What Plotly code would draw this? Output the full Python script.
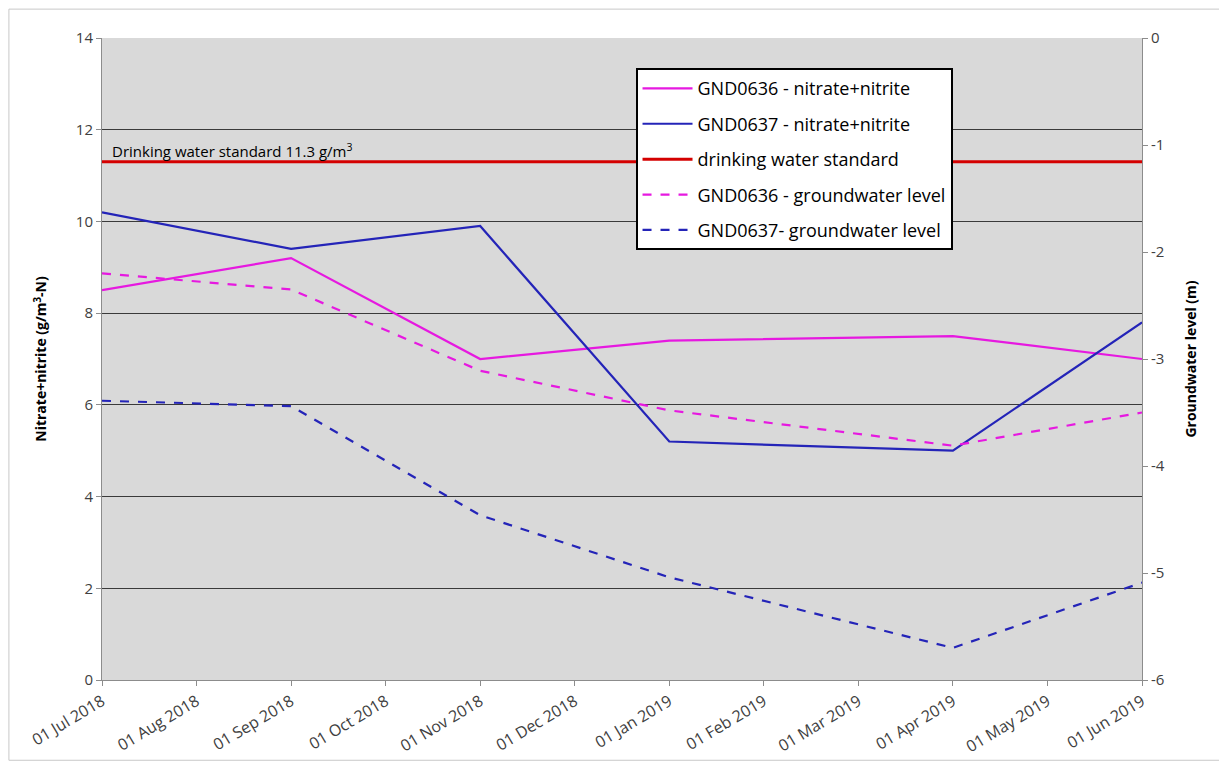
import plotly.graph_objects as go

# month axis (evenly spaced, like the spreadsheet date axis)
months = ["01 Jul 2018", "01 Aug 2018", "01 Sep 2018", "01 Oct 2018",
          "01 Nov 2018", "01 Dec 2018", "01 Jan 2019", "01 Feb 2019",
          "01 Mar 2019", "01 Apr 2019", "01 May 2019", "01 Jun 2019"]
sample_dates = ["01 Jul 2018", "01 Sep 2018", "01 Nov 2018",
                "01 Jan 2019", "01 Apr 2019", "01 Jun 2019"]

gnd0636_nitrate = [8.5, 9.2, 7.0, 7.4, 7.5, 7.0]
gnd0637_nitrate = [10.2, 9.4, 9.9, 5.2, 5.0, 7.8]
gnd0636_level = [-2.20, -2.35, -3.11, -3.48, -3.81, -3.50]
gnd0637_level = [-3.39, -3.44, -4.46, -5.04, -5.70, -5.09]
dws_value = 11.3

left_ticks = [0, 2, 4, 6, 8, 10, 12, 14]
right_ticks = [-6, -5, -4, -3, -2, -1, 0]
right_ticktext = ["-6", "-5", "-4", "-3", "-2", "-1", "0"]

MAGENTA = "#e619e0"
BLUE = "#2424b8"
RED = "#d40000"
FONT = "Open Sans"

fig = go.Figure()

fig.add_trace(go.Scatter(x=sample_dates, y=gnd0636_nitrate, mode="lines",
                         name="GND0636 - nitrate+nitrite", legendgroup="a",
                         line=dict(color=MAGENTA, width=2.2)))
fig.add_trace(go.Scatter(x=sample_dates, y=gnd0637_nitrate, mode="lines",
                         name="GND0637 - nitrate+nitrite", legendgroup="b",
                         line=dict(color=BLUE, width=2.2)))
fig.add_trace(go.Scatter(x=[months[0], months[-1]], y=[dws_value, dws_value],
                         mode="lines", name="drinking water standard",
                         legendgroup="c",
                         line=dict(color=RED, width=3)))
fig.add_trace(go.Scatter(x=sample_dates, y=gnd0636_level, mode="lines",
                         name="GND0636 - groundwater level", yaxis="y2",
                         legendgroup="d",
                         line=dict(color=MAGENTA, width=2.2, dash="dash")))
fig.add_trace(go.Scatter(x=sample_dates, y=gnd0637_level, mode="lines",
                         name="GND0637- groundwater level", yaxis="y2",
                         legendgroup="e",
                         line=dict(color=BLUE, width=2.2, dash="dash")))

axis_common = dict(showline=True, linecolor="#8c8c8c", ticks="outside",
                   ticklen=5, tickcolor="#8c8c8c", automargin=False,
                   tickfont=dict(size=15, color="#404040"))

# page body adds 8px offset, so margins are shifted to land the plot area
# on the same pixels as the reference
fig.update_layout(
    width=1227, height=767,
    margin=dict(l=94, r=93, t=30, b=95),
    paper_bgcolor="white",
    plot_bgcolor="#d9d9d9",
    font=dict(family=FONT, color="#404040", size=14),
    xaxis=dict(type="category", categoryorder="array", categoryarray=months,
               range=[0, len(months) - 1], tickangle=-31,
               showgrid=False, **axis_common),
    yaxis=dict(range=[0, 14], tickvals=left_ticks,
               showgrid=True, gridcolor="#3a3a3a", gridwidth=1,
               zeroline=False, **axis_common,
               title=dict(text="<b>Nitrate+nitrite (g/m<sup>3</sup>-N)</b>",
                          font=dict(size=14, color="black"), standoff=25)),
    yaxis2=dict(range=[-6, 0], tickvals=right_ticks, ticktext=right_ticktext,
                overlaying="y", side="right", showgrid=False, zeroline=False,
                **axis_common,
                title=dict(text="<b>Groundwater level (m)</b>",
                           font=dict(size=14, color="black"), standoff=22)),
    legend=dict(x=0.513, y=0.953, xanchor="left", yanchor="top",
                bgcolor="white", bordercolor="black", borderwidth=2,
                font=dict(size=18, color="black", family=FONT),
                itemwidth=50, tracegroupgap=9),
    showlegend=True,
)
fig.update_xaxes(tickfont=dict(size=16, color="#404040"))

fig.add_annotation(x=months[0], y=dws_value, xref="x", yref="y",
                   text="Drinking water standard 11.3 g/m<sup>3</sup>",
                   showarrow=False, xanchor="left", yanchor="bottom",
                   xshift=8, yshift=-1,
                   font=dict(size=15, color="black", family=FONT))

# outer chart frame
fig.add_shape(type="rect", xref="paper", yref="paper",
              x0=-0.0895, x1=1.077, y0=-0.125, y1=1.045,
              line=dict(color="#c8c8c8", width=1), layer="below")

fig.write_html("out.html")
